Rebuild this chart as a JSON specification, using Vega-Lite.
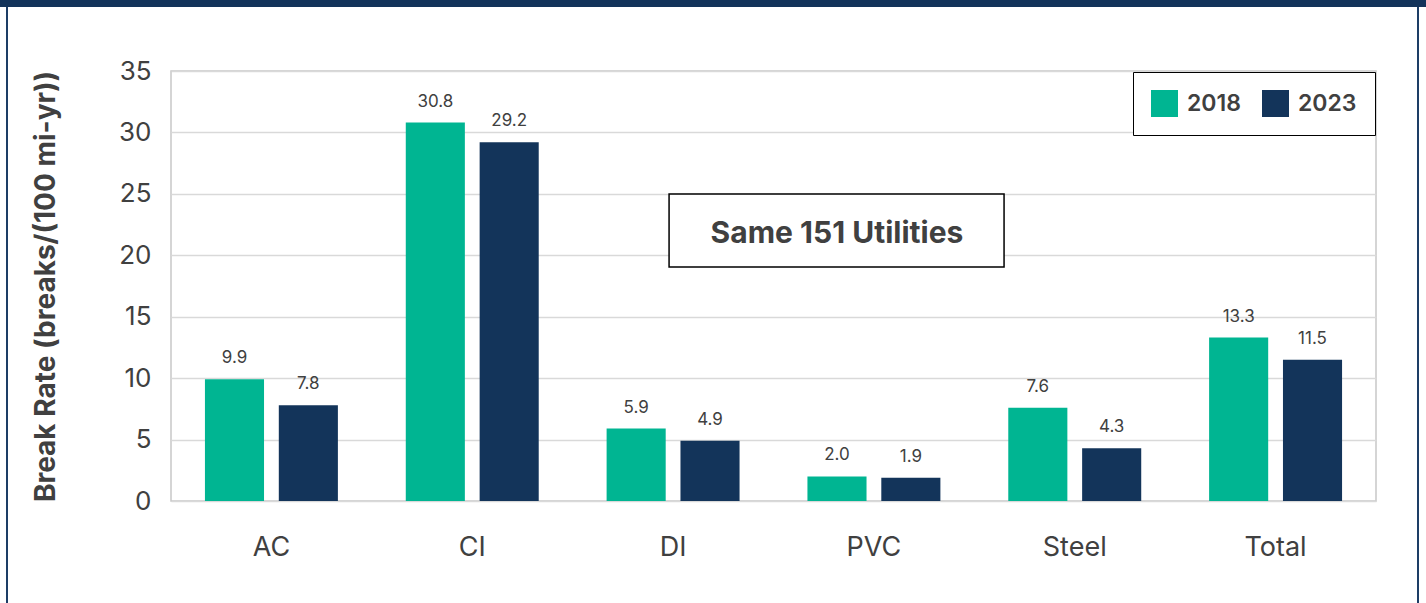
{
  "$schema": "https://vega.github.io/schema/vega-lite/v6.json",
  "padding": 0,
  "background": "white",
  "config": {"font": "Inter", "view": {"stroke": null}},
  "bounds": "full",
  "spacing": 0,
  "vconcat": [
    {"width": 1426, "height": 7, "data": {"values": []}, "mark": "point", "view": {"fill": "#13335a", "stroke": null}},
    {
      "bounds": "flush",
      "spacing": 0,
      "center": true,
      "hconcat": [
        {"width": 6, "height": 558, "data": {"values": []}, "mark": "point"},
        {"width": 2, "height": 558, "data": {"values": []}, "mark": "point", "view": {"fill": "#1d3d66", "stroke": null}},
        {"width": 163, "height": 558, "data": {"values": []}, "mark": "point"},
        {
          "width": 1205,
          "height": 430,
          "view": {"stroke": "#c8c8c8", "strokeWidth": 1.5},
          "data": {"values": [
            {"material": "AC", "year": "2018", "rate": 9.9},
            {"material": "AC", "year": "2023", "rate": 7.8},
            {"material": "CI", "year": "2018", "rate": 30.8},
            {"material": "CI", "year": "2023", "rate": 29.2},
            {"material": "DI", "year": "2018", "rate": 5.9},
            {"material": "DI", "year": "2023", "rate": 4.9},
            {"material": "PVC", "year": "2018", "rate": 2.0},
            {"material": "PVC", "year": "2023", "rate": 1.9},
            {"material": "Steel", "year": "2018", "rate": 7.6},
            {"material": "Steel", "year": "2023", "rate": 4.3},
            {"material": "Total", "year": "2018", "rate": 13.3},
            {"material": "Total", "year": "2023", "rate": 11.5}
          ]},
          "layer": [
            {
              "layer": [
                {
                  "mark": {"type": "bar"},
                  "encoding": {
                    "x": {"field": "material", "type": "nominal", "sort": ["AC", "CI", "DI", "PVC", "Steel", "Total"],
                      "scale": {"paddingInner": 0.338, "paddingOuter": 0.169},
                      "axis": {"title": null, "labelAngle": 0, "labelFontSize": 27, "labelColor": "#404040", "labelPadding": 33, "ticks": false, "domain": false}},
                    "xOffset": {"field": "year", "type": "nominal", "scale": {"paddingInner": 0.2, "paddingOuter": 0}},
                    "y": {"field": "rate", "type": "quantitative", "scale": {"domain": [0, 35], "nice": false},
                      "axis": {"title": "Break Rate (breaks/(100 mi-yr))", "titleFontSize": 28, "titleFontWeight": "bold", "titleColor": "#404040", "titleX": -111,
                        "values": [0, 5, 10, 15, 20, 25, 30, 35], "labelFontSize": 26, "labelColor": "#404040", "labelPadding": 20, "ticks": false, "domain": false,
                        "gridColor": "#d9d9d9", "gridWidth": 1.5}},
                    "color": {"field": "year", "type": "nominal", "scale": {"domain": ["2018", "2023"], "range": ["#00b592", "#13345a"]},
                      "legend": {"title": null, "orient": "none", "legendX": 1133, "legendY": 72, "direction": "horizontal",
                        "symbolType": "square", "symbolSize": 729, "symbolStrokeWidth": 0, "symbolOpacity": 1,
                        "labelFontSize": 23, "labelFontWeight": 600, "labelColor": "#404040", "labelOffset": 9, "columnPadding": 21,
                        "padding": 18, "strokeColor": "#000000", "fillColor": "#ffffff"}}
                  }
                },
                {
                  "mark": {"type": "text", "dy": -16, "baseline": "alphabetic", "fontSize": 17, "color": "#404040"},
                  "encoding": {
                    "x": {"field": "material", "type": "nominal", "sort": ["AC", "CI", "DI", "PVC", "Steel", "Total"]},
                    "xOffset": {"field": "year", "type": "nominal"},
                    "y": {"field": "rate", "type": "quantitative", "scale": {"domain": [0, 35], "nice": false}},
                    "text": {"field": "rate", "type": "quantitative", "format": ".1f"}
                  }
                }
              ]
            },
            {
              "data": {"values": [{"x1": 2.48, "x2": 4.148, "y1": 19.05, "y2": 24.99, "xm": 3.316, "ym": 21.7, "label": "Same 151 Utilities"}]},
              "layer": [
                {
                  "mark": {"type": "rect", "fill": "white", "stroke": "black", "strokeWidth": 1.5},
                  "encoding": {
                    "x": {"field": "x1", "type": "quantitative", "scale": {"domain": [0, 6], "nice": false, "zero": false}, "axis": null},
                    "x2": {"field": "x2"},
                    "y": {"field": "y1", "type": "quantitative", "scale": {"domain": [0, 35], "nice": false}},
                    "y2": {"field": "y2"}
                  }
                },
                {
                  "mark": {"type": "text", "fontSize": 30, "fontWeight": "bold", "color": "#404040", "baseline": "middle"},
                  "encoding": {
                    "x": {"field": "xm", "type": "quantitative", "scale": {"domain": [0, 6], "nice": false, "zero": false}, "axis": null},
                    "y": {"field": "ym", "type": "quantitative", "scale": {"domain": [0, 35], "nice": false}},
                    "text": {"field": "label", "type": "nominal"}
                  }
                }
              ]
            }
          ],
          "resolve": {"scale": {"x": "independent"}, "axis": {"x": "independent"}}
        },
        {"width": 41, "height": 558, "data": {"values": []}, "mark": "point"},
        {"width": 2, "height": 558, "data": {"values": []}, "mark": "point", "view": {"fill": "#1d3d66", "stroke": null}},
        {"width": 7, "height": 558, "data": {"values": []}, "mark": "point"}
      ]
    },
    {
      "bounds": "flush",
      "spacing": 0,
      "hconcat": [
        {"width": 6, "height": 38, "data": {"values": []}, "mark": "point"},
        {"width": 2, "height": 38, "data": {"values": []}, "mark": "point", "view": {"fill": "#1d3d66", "stroke": null}},
        {"width": 1409, "height": 38, "data": {"values": []}, "mark": "point"},
        {"width": 2, "height": 38, "data": {"values": []}, "mark": "point", "view": {"fill": "#1d3d66", "stroke": null}},
        {"width": 7, "height": 38, "data": {"values": []}, "mark": "point"}
      ]
    }
  ]
}
